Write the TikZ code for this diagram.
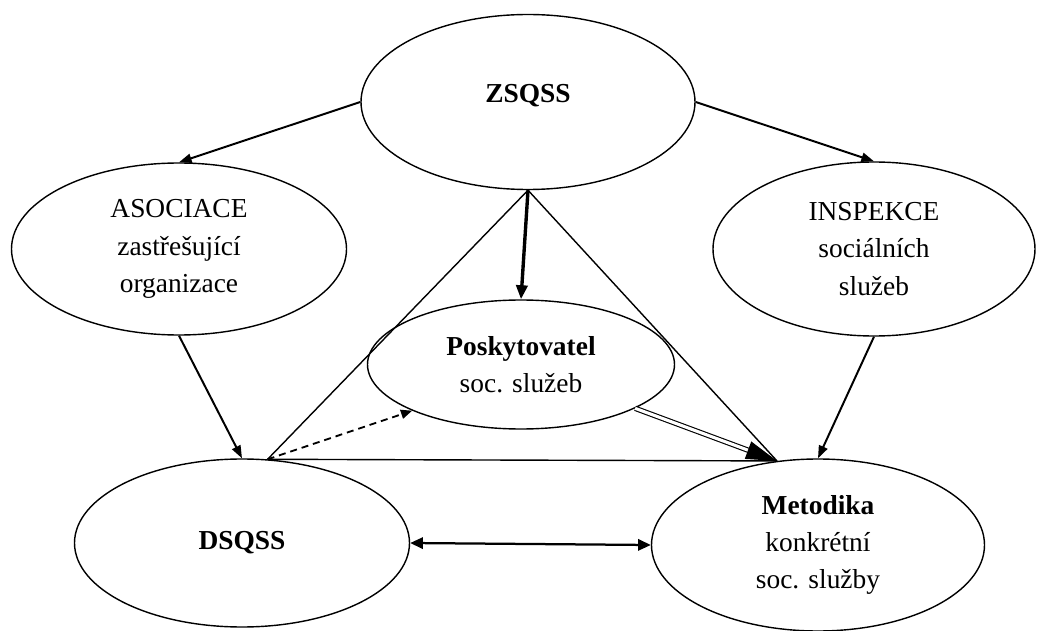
\documentclass[tikz,border=0pt]{standalone}
\usepackage{fontspec}
\setmainfont{Liberation Serif}
\usepackage{tikz}
\usetikzlibrary{arrows.meta,calc,shapes.geometric}

\begin{document}
\begin{tikzpicture}[
  >=Triangle,
  %% Institutions: plain ellipses, large serif text
  ellnode/.style={draw,line width=1pt,ellipse,inner sep=0pt,align=center,
                  font=\fontsize{19.5}{26.5}\selectfont},
  %% Ordinary arrows
  arr/.style={-{Triangle[length=9pt,width=6.5pt]},line width=1.4pt},
  %% Main (thick) arrow
  thickarr/.style={-{Triangle[length=10pt,width=8pt]},line width=2.4pt},
  %% Plain triangle lines
  thinline/.style={line width=1pt},
  %% Dashed arrow
  dasharr/.style={-{Triangle[length=8pt,width=6.5pt]},line width=1.3pt,dash pattern=on 5pt off 3.5pt},
  %% Double line and its big tip
  dblline/.style={double,double distance=2.2pt,line width=0.8pt,shorten >=18pt},
  bigtip/.style={-{Triangle[length=22pt,width=13pt]},line width=0.8pt},
  %% Both-way arrow
  twoarr/.style={{Triangle[length=9pt,width=8pt]}-{Triangle[length=9pt,width=8pt]},line width=1.6pt}
]
\useasboundingbox (0,0) rectangle (26,15.75);

%% ---- NODES ----
\node[ellnode,minimum width=8.35cm,minimum height=4.375cm] (zsqss) at (13.2,13.2)
  {\textbf{ZSQSS}\\[-13.7pt]\mbox{}};
\node[ellnode,minimum width=8.375cm,minimum height=4.3cm] (asoc) at (4.475,9.525)
  {ASOCIACE\\zastřešující\\organizace};
\node[ellnode,minimum width=8.05cm,minimum height=4.35cm] (insp) at (21.85,9.525)
  {INSPEKCE\\sociálních\\služeb};
\node[ellnode,minimum width=7.675cm,minimum height=3.225cm] (posk) at (13.025,6.6375)
  {\textbf{Poskytovatel}\\soc. služeb};
\node[ellnode,minimum width=8.375cm,minimum height=4.2cm] (dsqss) at (6.05,2.175)
  {\textbf{DSQSS}};
\node[ellnode,minimum width=8.325cm,minimum height=4.3cm] (met) at (20.45,2.125)
  {\textbf{Metodika}\\konkrétní\\soc. služby};

%% ---- ZSQSS OUTWARDS ----
\draw[arr] (zsqss.west) -- (asoc.north);
\draw[arr] (zsqss.east) -- (insp.north);
\draw[thickarr] (zsqss.south) -- (posk.north);

%% ---- TRIANGLE ----
\draw[thinline] (zsqss.south) -- (dsqss.73);
\draw[thinline] (zsqss.south) -- (met.116);
\draw[thinline] (dsqss.73) -- (met.116);
\draw[dasharr] (dsqss.73) -- (posk.203);
\draw[dblline] (posk.339) -- (met.116);
\draw[bigtip] ($(posk.339)!0.8!(met.116)$) -- (met.116);

%% ---- LOWER ROW ----
\draw[arr] (asoc.south) -- (dsqss.north);
\draw[arr] (insp.south) -- (met.north);
\draw[twoarr] (dsqss.east) -- (met.west);

\end{tikzpicture}
\end{document}
